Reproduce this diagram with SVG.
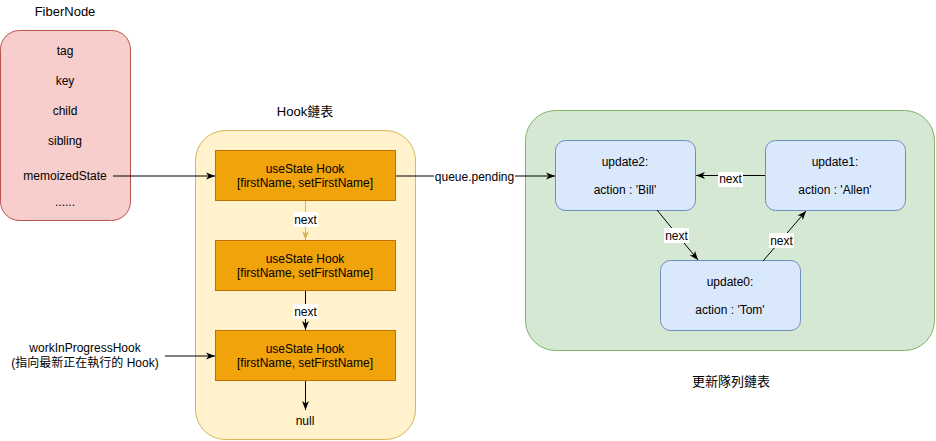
<svg xmlns="http://www.w3.org/2000/svg" width="936" height="441" viewBox="0 0 936 441">
<defs>
<style>
text{font-family:"Liberation Sans",Arial,"Noto Sans CJK TC",sans-serif;font-size:12px;fill:#000;text-anchor:middle}
.title{font-size:13px}
.fiber{fill:#f8cecc;stroke:#b85450;stroke-width:1}
.hookc{fill:#fff2cc;stroke:#d6b656;stroke-width:1}
.hook{fill:#f0a30a;stroke:#bd7000;stroke-width:1}
.queue{fill:#d5e8d4;stroke:#82b366;stroke-width:1}
.upd{fill:#dae8fc;stroke:#6c8ebf;stroke-width:1}
.edge{fill:none;stroke:#000;stroke-width:1}
.gold{stroke:#d6b656}
.lblbg{fill:#fff}
</style>
<marker id="arr" markerUnits="userSpaceOnUse" markerWidth="10" markerHeight="8" refX="9" refY="4" orient="auto" viewBox="0 0 10 8">
<path d="M0,0.5 L9,4 L0,7.5 L2.5,4 Z" fill="#000"/>
</marker>
<marker id="arrg" markerUnits="userSpaceOnUse" markerWidth="10" markerHeight="8" refX="9" refY="4" orient="auto" viewBox="0 0 10 8">
<path d="M0,0.5 L9,4 L0,7.5 L2.5,4 Z" fill="#d6b656"/>
</marker>
</defs>
<rect width="936" height="441" fill="#fff"/>

<g id="fibernode">
<text class="title" x="65" y="16">FiberNode</text>
<rect class="fiber" x="0.5" y="30.5" width="130" height="190" rx="19"/>
<text x="65" y="55">tag</text>
<text x="65" y="85">key</text>
<text x="65" y="115">child</text>
<text x="65" y="145">sibling</text>
<text x="65" y="180">memoizedState</text>
<text x="65" y="206">......</text>
</g>

<g id="hook-list">
<text class="title" x="305" y="116">Hook鏈表</text>
<rect class="hookc" x="195.5" y="130.5" width="220" height="309" rx="30"/>
</g>
<g id="hook1">
<rect class="hook" x="215.5" y="150.5" width="180" height="50"/>
<text x="305" y="173">useState Hook</text>
<text x="305" y="187">[firstName, setFirstName]</text>
</g>
<g id="hook2">
<rect class="hook" x="215.5" y="240.5" width="180" height="50"/>
<text x="305" y="263">useState Hook</text>
<text x="305" y="277">[firstName, setFirstName]</text>
</g>
<g id="hook3">
<rect class="hook" x="215.5" y="330.5" width="180" height="50"/>
<text x="305" y="353">useState Hook</text>
<text x="305" y="367">[firstName, setFirstName]</text>
</g>
<g id="null">
<text x="305" y="425">null</text>
</g>
<g id="wip">
<text x="85" y="352">workInProgressHook</text>
<text x="85" y="367">(指向最新正在執行的 Hook)</text>
</g>

<g id="update-queue">
<rect class="queue" x="525.5" y="110.5" width="409" height="240" rx="30"/>
<text class="title" x="731" y="386">更新隊列鏈表</text>
</g>
<g id="update2">
<rect class="upd" x="555.5" y="140.5" width="140" height="70" rx="10"/>
<text x="625" y="166">update2:</text>
<text x="625" y="194">action : 'Bill'</text>
</g>
<g id="update1">
<rect class="upd" x="765.5" y="140.5" width="140" height="70" rx="10"/>
<text x="835" y="166">update1:</text>
<text x="835" y="194">action : 'Allen'</text>
</g>
<g id="update0">
<rect class="upd" x="660.5" y="260.5" width="140" height="70" rx="10"/>
<text x="730" y="286">update0:</text>
<text x="730" y="314">action : 'Tom'</text>
</g>

<g id="connectors">
<line class="edge" x1="113" y1="176" x2="215" y2="176" marker-end="url(#arr)"/>
<line class="edge" x1="165" y1="356" x2="215" y2="356" marker-end="url(#arr)"/>
<line class="edge gold" x1="305.5" y1="201" x2="305.5" y2="240" marker-end="url(#arrg)"/>
<rect class="lblbg" x="293" y="212" width="25" height="15"/>
<text x="305.5" y="224">next</text>
<line class="edge" x1="305.5" y1="291" x2="305.5" y2="330" marker-end="url(#arr)"/>
<rect class="lblbg" x="293" y="304" width="25" height="15"/>
<text x="305.5" y="316">next</text>
<line class="edge" x1="305.5" y1="381" x2="305.5" y2="410" marker-end="url(#arr)"/>

<line class="edge" x1="396" y1="176" x2="555" y2="176" marker-end="url(#arr)"/>
<rect class="lblbg" x="434" y="170" width="81" height="15"/>
<text x="474.5" y="181">queue.pending</text>

<line class="edge" x1="765" y1="175.5" x2="696" y2="175.5" marker-end="url(#arr)"/>
<rect class="lblbg" x="718" y="172" width="25" height="15"/>
<text x="730.5" y="183">next</text>

<line class="edge" x1="657" y1="210" x2="698" y2="260" marker-end="url(#arr)"/>
<rect class="lblbg" x="664" y="228" width="25" height="15"/>
<text x="676.5" y="240">next</text>

<line class="edge" x1="763" y1="261" x2="806" y2="211" marker-end="url(#arr)"/>
<rect class="lblbg" x="769" y="233" width="25" height="15"/>
<text x="781.5" y="245">next</text>
</g>
</svg>
